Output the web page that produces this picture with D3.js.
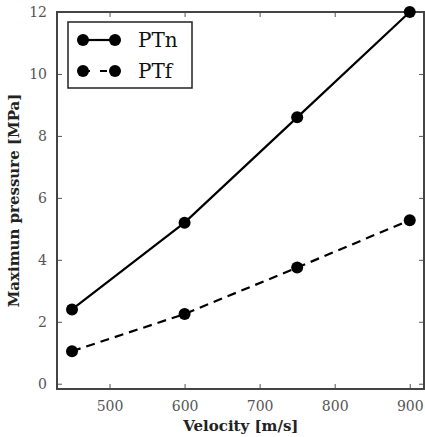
<!DOCTYPE html>
<html>
<head>
<meta charset="utf-8">
<title>Maximum pressure vs velocity</title>
<style>
  body { margin: 0; background: #fff; }
  text { font-family: "DejaVu Serif", "Liberation Serif", serif; }
</style>
</head>
<body>
<script src="https://cdnjs.cloudflare.com/ajax/libs/d3/7.8.5/d3.min.js"></script>
<script>
// data
var velocity = [450, 600, 750, 900];
var ptn = [2.4, 5.2, 8.6, 12.0];
var ptf = [1.05, 2.25, 3.75, 5.28];
var seriesNames = ["PTn", "PTf"];
var xTicks = [500, 600, 700, 800, 900];
var yTicks = [0, 2, 4, 6, 8, 10, 12];

var margin = {top: 12, right: 1, bottom: 48, left: 57},
    width = 425 - margin.left - margin.right,
    height = 437 - margin.top - margin.bottom;

var x = d3.scaleLinear().domain([430, 919]).range([0, width]);
var y = d3.scaleLinear().domain([-0.17, 12]).range([height, 0]);

var svg = d3.select("body").append("svg")
    .attr("width", 425)
    .attr("height", 437)
  .append("g")
    .attr("transform", "translate(" + margin.left + "," + margin.top + ")");

// axes, ticks pointing inward on all four sides
function styleAxis(g) {
  g.select(".domain").remove();
  g.selectAll(".tick line").attr("stroke", "#555").attr("stroke-width", 1);
  g.selectAll(".tick text").attr("fill", "#555").style("font-size", "14px")
    .style("font-family", "'DejaVu Serif', serif");
}

svg.append("g")
    .attr("transform", "translate(0," + height + ")")
    .call(d3.axisBottom(x).tickValues(xTicks).tickSizeInner(-5).tickPadding(12))
    .call(styleAxis);
svg.append("g")
    .call(d3.axisTop(x).tickValues(xTicks).tickSizeInner(-5).tickFormat(""))
    .call(styleAxis);
svg.append("g")
    .call(d3.axisLeft(y).tickValues(yTicks).tickSizeInner(-5).tickPadding(10))
    .call(styleAxis);
svg.append("g")
    .attr("transform", "translate(" + width + ",0)")
    .call(d3.axisRight(y).tickValues(yTicks).tickSizeInner(-5).tickFormat(""))
    .call(styleAxis);

svg.append("rect")
    .attr("width", width)
    .attr("height", height)
    .attr("fill", "none")
    .attr("stroke", "#444")
    .attr("stroke-width", 2);

var line = d3.line()
    .x(function(d) { return x(d[0]); })
    .y(function(d) { return y(d[1]); });

var series = [
  {name: seriesNames[0], values: d3.zip(velocity, ptn), dash: null},
  {name: seriesNames[1], values: d3.zip(velocity, ptf), dash: "9,6"}
];

var plot = svg.append("g");
series.forEach(function(s) {
  plot.append("path")
      .datum(s.values)
      .attr("fill", "none")
      .attr("stroke", "#000")
      .attr("stroke-width", 2.2)
      .attr("stroke-dasharray", s.dash)
      .attr("d", line);
  plot.selectAll(null)
      .data(s.values)
    .enter().append("circle")
      .attr("cx", function(d) { return x(d[0]); })
      .attr("cy", function(d) { return y(d[1]); })
      .attr("r", 6)
      .attr("fill", "#000");
});

// legend
var legend = svg.append("g").attr("transform", "translate(11,10)");
legend.append("rect")
    .attr("width", 124)
    .attr("height", 66)
    .attr("fill", "#fff")
    .attr("stroke", "#222")
    .attr("stroke-width", 1.5);
series.forEach(function(s, i) {
  var ly = 18 + i * 31;
  legend.append("line")
      .attr("x1", 15).attr("x2", 47)
      .attr("y1", ly).attr("y2", ly)
      .attr("stroke", "#000")
      .attr("stroke-width", 2.2)
      .attr("stroke-dasharray", s.dash ? "7,10" : null);
  legend.selectAll(null)
      .data([15, 47])
    .enter().append("circle")
      .attr("cx", function(d) { return d; })
      .attr("cy", ly)
      .attr("r", 6)
      .attr("fill", "#000");
  legend.append("text")
      .attr("x", 70)
      .attr("y", ly + 7)
      .style("font-size", "20px")
      .attr("fill", "#111")
      .text(s.name);
});

// axis labels
svg.append("text")
    .attr("x", x(675))
    .attr("y", height + 42)
    .attr("text-anchor", "middle")
    .style("font-size", "15px")
    .style("font-weight", "bold")
    .attr("fill", "#222")
    .text("Velocity [m/s]");

svg.append("text")
    .attr("transform", "rotate(-90)")
    .attr("x", -height / 2)
    .attr("y", -38)
    .attr("text-anchor", "middle")
    .style("font-size", "15px")
    .style("font-weight", "bold")
    .attr("fill", "#222")
    .text("Maximun pressure [MPa]");
</script>
</body>
</html>
